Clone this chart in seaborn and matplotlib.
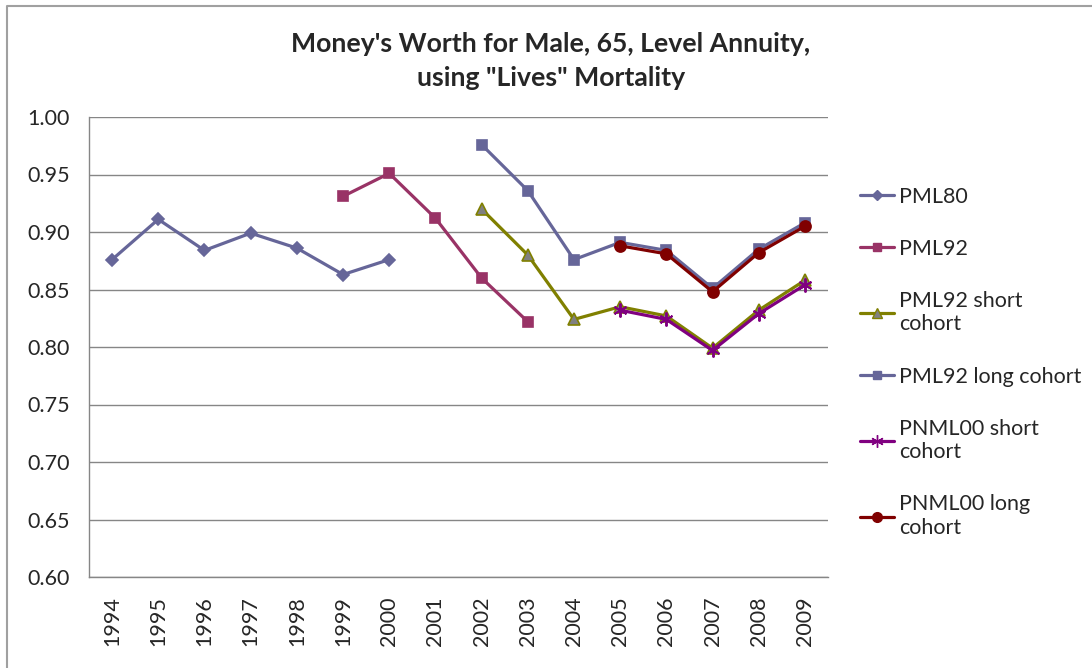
import matplotlib
matplotlib.use("Agg")
import matplotlib.pyplot as plt
from matplotlib.lines import Line2D
import numpy as np
import pandas as pd
import seaborn as sns

YEARS = list(range(1994, 2010))

PML80 = [0.876, 0.911, 0.884, 0.899, 0.886, 0.863, 0.876]
PML80_YEARS = list(range(1994, 2001))

PML92 = [0.931, 0.951, 0.912, 0.860, 0.822]
PML92_YEARS = list(range(1999, 2004))

PML92_SHORT = [0.920, 0.880, 0.824, 0.835, 0.827, 0.799, 0.832, 0.858]
PML92_LONG = [0.976, 0.936, 0.876, 0.891, 0.884, 0.851, 0.885, 0.908]
PML92_COHORT_YEARS = list(range(2002, 2010))

PNML00_SHORT = [0.832, 0.824, 0.797, 0.829, 0.854]
PNML00_LONG = [0.888, 0.881, 0.848, 0.882, 0.905]
PNML00_YEARS = list(range(2005, 2010))

SERIES = [
    ("PML80", PML80_YEARS, PML80),
    ("PML92", PML92_YEARS, PML92),
    ("PML92 short\ncohort", PML92_COHORT_YEARS, PML92_SHORT),
    ("PML92 long cohort", PML92_COHORT_YEARS, PML92_LONG),
    ("PNML00 short\ncohort", PNML00_YEARS, PNML00_SHORT),
    ("PNML00 long\ncohort", PNML00_YEARS, PNML00_LONG),
]

# line colour, marker, marker face, marker edge, marker size
STYLES = [
    ("#666699", "D", "#666699", "#666699", 6),
    ("#993366", "s", "#993366", "#993366", 7),
    ("#808000", "^", "#808080", "#808000", 8),
    ("#666699", "s", "#666699", "#666699", 7),
    ("#800080", (6, 2, 0), "#800080", "#800080", 10),
    ("#800000", "o", "#800000", "#800000", 8),
]

sns.set_style("white")
plt.rcParams["font.family"] = ["Lato", "DejaVu Sans"]

fig = plt.figure(figsize=(10.92, 6.68), dpi=100)
ax = fig.add_axes([89 / 1092, 1 - 577 / 668, (828 - 89) / 1092, (577 - 117) / 668])

handles = []
for (label, years, vals), (col, mk, fc, ec, ms) in zip(SERIES, STYLES):
    df = pd.DataFrame({"year": years, "value": vals})
    sns.lineplot(data=df, x="year", y="value", ax=ax, color=col, linewidth=2.3,
                 marker=mk, markersize=ms, markerfacecolor=fc, markeredgecolor=ec,
                 markeredgewidth=1.2 if mk != (6, 2, 0) else 1.4, zorder=3)
    handles.append(Line2D([0], [0], color=col, linewidth=2.3, marker=mk, markersize=ms - 1,
                          markerfacecolor=fc, markeredgecolor=ec, label=label))

ax.set_xlim(1993.5, 2009.5)
ax.set_ylim(0.60, 1.00)
ax.set_yticks(np.arange(0.60, 1.001, 0.05))
ax.set_yticklabels([f"{v:.2f}" for v in np.arange(0.60, 1.001, 0.05)], fontsize=15.5)
ax.set_xticks(YEARS)
ax.set_xticklabels([str(y) for y in YEARS], rotation=90, fontsize=15.5)
ax.set_xticks(np.arange(1993.5, 2010, 1), minor=True)
ax.tick_params(axis="x", which="major", length=0, pad=14)
ax.tick_params(axis="x", which="minor", length=7, color="#868686", width=1, direction="out")
ax.tick_params(axis="y", length=0, pad=14)
ax.set_xlabel("")
ax.set_ylabel("")
ax.yaxis.grid(True, color="#868686", linewidth=1)
ax.xaxis.grid(False)
for side in ["top", "right"]:
    ax.spines[side].set_visible(False)
for side in ["left", "bottom"]:
    ax.spines[side].set_color("#868686")
    ax.spines[side].set_linewidth(1)

fig.text(551 / 1092, 1 - 61 / 668, "Money's Worth for Male, 65, Level Annuity,\nusing \"Lives\" Mortality",
         ha="center", va="center", fontsize=19.2, fontweight="bold", linespacing=1.45)

fig.legend(handles=handles, loc="upper left", bbox_to_anchor=(851 / 1092, 1 - 178 / 668),
           frameon=False, fontsize=15.5, handlelength=1.6, labelspacing=1.5,
           handletextpad=0.25, borderaxespad=0)

# chart area border
fig.add_artist(Line2D([7 / 1092, 7 / 1092, 1.0], [0.0, 1 - 6 / 668, 1 - 6 / 668],
                      transform=fig.transFigure, color="#a0a0a0", linewidth=1.5))

fig.savefig("out.png", dpi=100)
